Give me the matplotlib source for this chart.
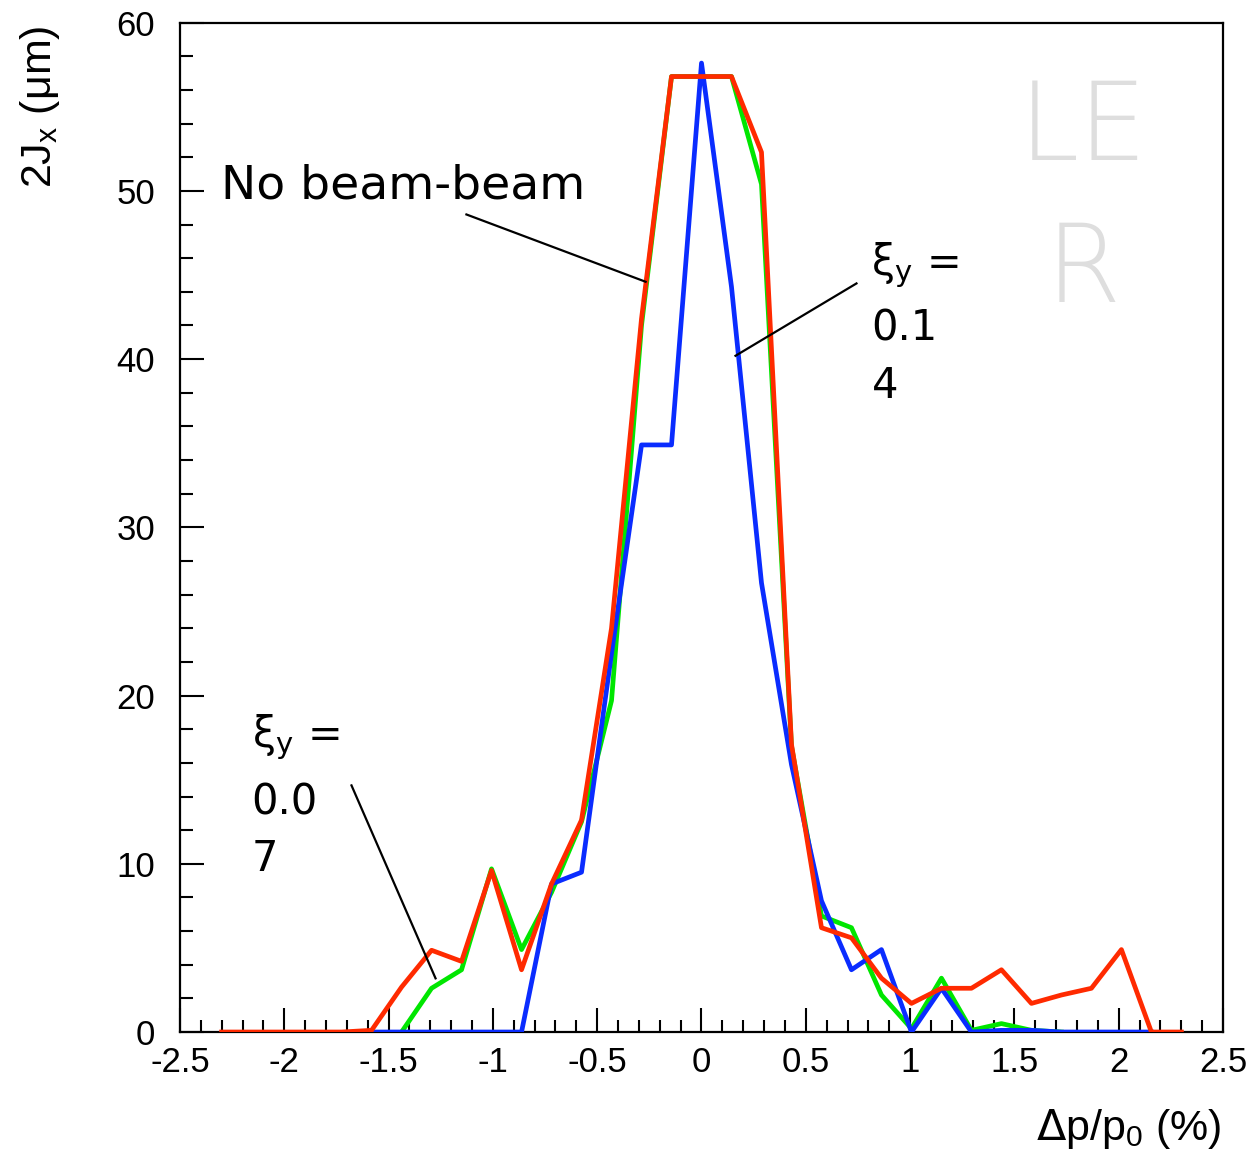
import numpy as np
import matplotlib
matplotlib.use("Agg")
import matplotlib.pyplot as plt
from matplotlib.ticker import MultipleLocator

bin_w = 0.1438

# bin indices and values (2Jx, um)
red_k = list(range(-16, 17))
red_v = [0, 0, 0, 0, 0, 0.1, 2.67, 4.86, 4.2, 9.6, 3.7, 8.8, 12.6, 24.0, 42.4,
         56.8, 56.8, 56.8, 52.3, 17.1, 6.2, 5.6, 3.2, 1.7, 2.6, 2.6, 3.7, 1.7,
         2.2, 2.6, 4.9, 0, 0]

green_k = list(range(-10, 13))
green_v = [0, 2.6, 3.7, 9.7, 4.9, 8.3, 12.5, 19.7, 42.0, 56.8, 56.8, 56.8, 50.4,
           17.0, 6.9, 6.2, 2.2, 0.2, 3.2, 0.1, 0.5, 0.1, 0.0]

blue_k = list(range(-11, 16))
blue_v = [0, 0, 0, 0, 0, 0, 8.8, 9.5, 22.5, 34.9, 34.9, 57.6, 44.3, 26.7, 15.9,
          7.8, 3.7, 4.9, 0, 2.6, 0, 0.1, 0.1, 0, 0, 0, 0]

xticks = [-2.5, -2, -1.5, -1, -0.5, 0, 0.5, 1, 1.5, 2, 2.5]
xtick_labels = ["-2.5", "-2", "-1.5", "-1", "-0.5", "0", "0.5", "1", "1.5", "2", "2.5"]
yticks = [0, 10, 20, 30, 40, 50, 60]

fig = plt.figure(figsize=(12.52, 11.58), dpi=100)
ax = fig.add_axes([0.1438, 0.1088, 0.8330, 0.8716])

lw = 3.4
ax.plot(np.array(green_k) * bin_w, green_v, color="#00e600", lw=lw, zorder=3)
ax.plot(np.array(blue_k) * bin_w, blue_v, color="#0a2cff", lw=lw, zorder=4)
ax.plot(np.array(red_k) * bin_w, red_v, color="#ff2a00", lw=lw, zorder=5)

ax.set_xlim(-2.5, 2.5)
ax.set_ylim(0, 60)
ax.set_xticks(xticks)
ax.set_xticklabels(xtick_labels)
ax.set_yticks(yticks)
ax.xaxis.set_minor_locator(MultipleLocator(0.1))
ax.yaxis.set_minor_locator(MultipleLocator(2))

tickfont = "Liberation Sans"
ax.tick_params(which="both", direction="in", top=False, right=False,
               width=1.5, colors="black")
ax.tick_params(which="major", length=17, labelsize=25)
ax.tick_params(axis="x", which="major", pad=10)
ax.tick_params(axis="y", which="major", pad=18)
ax.tick_params(which="minor", length=9)
for lab in ax.get_xticklabels() + ax.get_yticklabels():
    lab.set_fontfamily(tickfont)
for sp in ax.spines.values():
    sp.set_linewidth(1.6)

fig.text(0.032, 0.978, r"2J$_\mathregular{x}$ ($\mathregular{\mu}$m)", rotation=90,
         ha="center", va="top", fontsize=31, family=tickfont)
fig.text(0.976, 0.006, r"$\Delta$p/p$_\mathregular{0}$ (%)", ha="right", va="bottom",
         fontsize=31, family=tickfont)

annfont = "DejaVu Sans"
ax.text(-2.306, 50.3, "No beam-beam", fontsize=34, family=annfont,
        ha="left", va="center")
ax.plot([-1.127, -0.268], [48.6, 44.6], color="black", lw=1.6, zorder=6)

ax.text(0.815, 45.6, r"$\mathregular{\xi_y}$ =", fontsize=30, family=annfont, ha="left", va="center")
ax.text(0.815, 41.8, "0.1", fontsize=30, family=annfont, ha="left", va="center")
ax.text(0.815, 38.4, "4", fontsize=30, family=annfont, ha="left", va="center")
ax.plot([0.743, 0.163], [44.5, 40.2], color="black", lw=1.6, zorder=6)

ax.text(-2.157, 17.5, r"$\mathregular{\xi_y}$ =", fontsize=30, family=annfont, ha="left", va="center")
ax.text(-2.157, 13.65, "0.0", fontsize=30, family=annfont, ha="left", va="center")
ax.text(-2.157, 10.3, "7", fontsize=30, family=annfont, ha="left", va="center")
ax.plot([-1.678, -1.275], [14.66, 3.19], color="black", lw=1.6, zorder=6)

ax.text(1.83, 53.6, "LE", fontsize=78, family=annfont, color="#dedede",
        ha="center", va="center", fontweight="light", zorder=1)
ax.text(1.83, 45.2, "R", fontsize=78, family=annfont, color="#dedede",
        ha="center", va="center", fontweight="light", zorder=1)

fig.savefig("out.png", dpi=100)
